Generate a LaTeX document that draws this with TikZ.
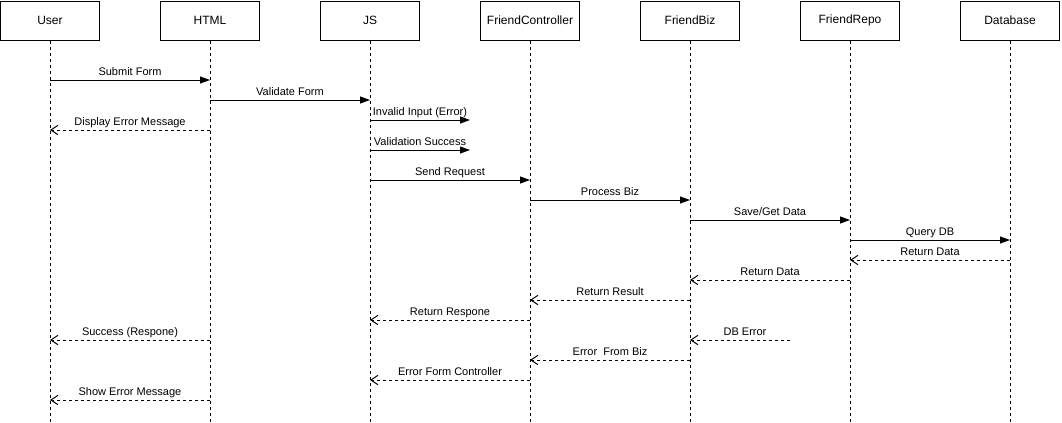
\documentclass[tikz,border=0pt]{standalone}
\usepackage{fontspec}
\setmainfont{Liberation Sans}
\usetikzlibrary{arrows.meta}
\begin{document}
\begin{tikzpicture}[x=0.75pt,y=-0.75pt,
  actor/.style={draw,line width=0.75pt,minimum width=74.25pt,minimum height=29.25pt,
    inner sep=0pt,font=\fontsize{9}{10}\selectfont},
  life/.style={line width=0.75pt,dash pattern=on 2.25pt off 2.25pt},
  call/.style={line width=0.75pt,-{Triangle[length=7.5pt,width=5.25pt]}},
  reply/.style={line width=0.75pt,dash pattern=on 2.25pt off 2.25pt,
    -{Straight Barb[length=5.25pt,width=7pt,line width=0.75pt]}},
  lbl/.style={font=\fontsize{8.25}{9}\selectfont,inner sep=0pt,anchor=base,yshift=3.2pt}]
\useasboundingbox (0,0) rectangle (1062,422);

% participants
\node[actor] (u)  at (50,20.5)   {User};
\node[actor] (h)  at (210,20.5)  {HTML};
\node[actor] (j)  at (370,20.5)  {JS};
\node[actor] (fc) at (530,20.5)  {FriendController};
\node[actor] (fb) at (690,20.5)  {FriendBiz};
\node[actor] (fr) at (850,20.5)  {FriendRepo};
\node[actor] (db) at (1010,20.5) {Database};

% lifelines
\foreach \p in {u,h,j,fc,fb,fr,db}
  \draw[life] (\p.south) -- (\p |- 0,422);

% free ends of the short messages
\coordinate (jx1) at (470,120);
\coordinate (jx2) at (470,150);
\coordinate (dberr) at (790,340);

% messages
\draw[call] (u |- 0,80) -- node[lbl] {Submit Form} (h |- 0,80);
\draw[call] (h |- 0,100) -- node[lbl] {Validate Form} (j |- 0,100);
\draw[call] (j |- jx1) -- node[lbl] {Invalid Input (Error)} (jx1);
\draw[reply] (h |- 0,130) -- node[lbl] {Display Error Message} (u |- 0,130);
\draw[call] (j |- jx2) -- node[lbl] {Validation Success} (jx2);
\draw[call] (j |- 0,180) -- node[lbl] {Send Request} (fc |- 0,180);
\draw[call] (fc |- 0,200) -- node[lbl] {Process Biz} (fb |- 0,200);
\draw[call] (fb |- 0,220) -- node[lbl] {Save/Get Data} (fr |- 0,220);
\draw[call] (fr |- 0,240) -- node[lbl] {Query DB} (db |- 0,240);
\draw[reply] (db |- 0,260) -- node[lbl] {Return Data} (fr |- 0,260);
\draw[reply] (fr |- 0,280) -- node[lbl] {Return Data} (fb |- 0,280);
\draw[reply] (fb |- 0,300) -- node[lbl] {Return Result} (fc |- 0,300);
\draw[reply] (fc |- 0,320) -- node[lbl] {Return Respone} (j |- 0,320);
\draw[reply] (h |- 0,340) -- node[lbl] {Success (Respone)} (u |- 0,340);
\draw[reply] (dberr) -- node[lbl,xshift=3.75pt] {DB Error} (fb |- dberr);
\draw[reply] (fb |- 0,360) -- node[lbl] {Error\ \ From Biz} (fc |- 0,360);
\draw[reply] (fc |- 0,380) -- node[lbl] {Error Form Controller} (j |- 0,380);
\draw[reply] (h |- 0,400) -- node[lbl] {Show Error Message} (u |- 0,400);
\end{tikzpicture}
\end{document}
